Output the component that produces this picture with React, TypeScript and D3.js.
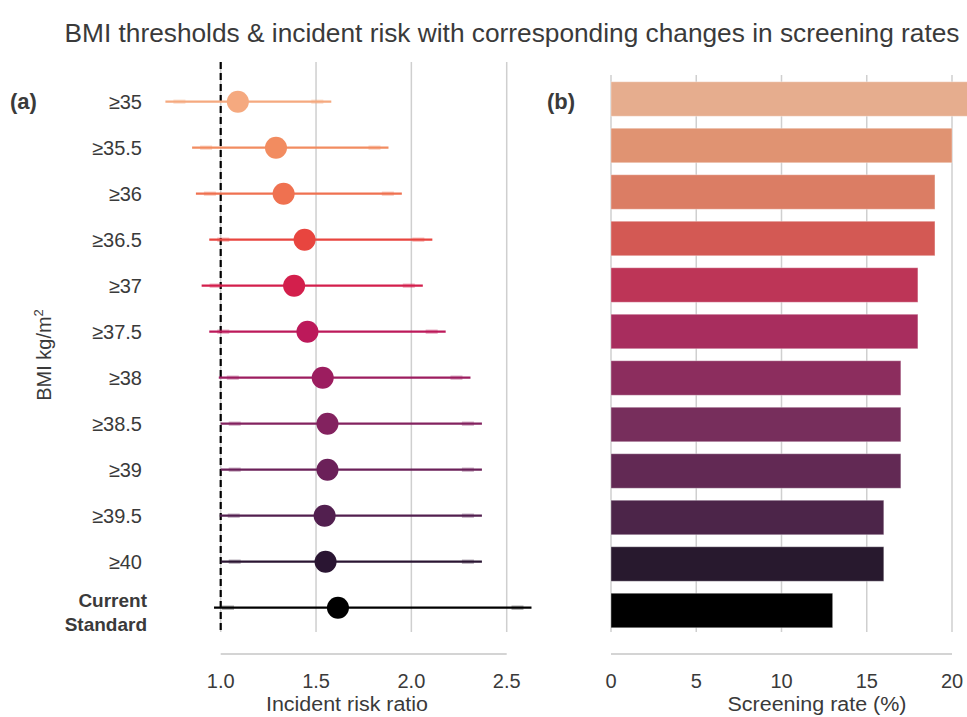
import React from "react";
import * as d3 from "d3";

// BMI thresholds, from the loosest to the current standard
const categories = [
  "≥35",
  "≥35.5",
  "≥36",
  "≥36.5",
  "≥37",
  "≥37.5",
  "≥38",
  "≥38.5",
  "≥39",
  "≥39.5",
  "≥40",
  "Current Standard",
];

// Incident risk ratio with 95% CI
const riskRatio = [1.09, 1.29, 1.33, 1.44, 1.385, 1.455, 1.535, 1.56, 1.56, 1.545, 1.55, 1.615];
const ciLower = [0.71, 0.85, 0.87, 0.94, 0.9, 0.94, 0.99, 1.0, 1.0, 0.995, 1.0, 0.965];
const ciUpper = [1.58, 1.88, 1.95, 2.11, 2.06, 2.18, 2.31, 2.37, 2.37, 2.37, 2.37, 2.63];

// Screening rate (%)
const screeningRate = [21, 20, 19, 19, 18, 18, 17, 17, 17, 16, 16, 13];

const riskTicks = [1.0, 1.5, 2.0, 2.5];
const rateTicks = [0, 5, 10, 15, 20];

const pointColors = [
  "#F5A97F",
  "#F28C60",
  "#EF7150",
  "#E8453F",
  "#D31F4C",
  "#BC195A",
  "#9C1D5F",
  "#83225F",
  "#6B2059",
  "#521F4F",
  "#2A1532",
  "#000000",
];

const W = 967;
const H = 717;
const FONT = "'Liberation Sans', Arial, Helvetica, sans-serif";
const GRID = "#cfcfcf";
const TEXT = "#3a3a3a";

function desaturate(c: string, f: number): string {
  const h = d3.hsl(c);
  if (isNaN(h.s) || isNaN(h.h)) return d3.rgb(c).formatHex();
  h.s *= f;
  return h.formatHex();
}

export default function App() {
  const xRisk = d3.scaleLinear().domain([1, 2.5]).range([220.7, 506.7]);
  const yRisk = d3.scalePoint<string>().domain(categories).range([101.7, 607.7]);

  const xRate = d3.scaleLinear().domain([0, 20]).range([611, 952]);
  const yRate = d3
    .scaleBand<string>()
    .domain(categories)
    .range([75.75, 633.75])
    .paddingInner(0.258)
    .paddingOuter(0.129);

  const barColors = pointColors.map((c) => desaturate(c, 0.75));
  const fmt = d3.format(".1f");

  const leftTop = 62;
  const plotBottom = 632;
  const axisY = 654;

  return (
    <svg
      width={W}
      height={H}
      viewBox={`0 0 ${W} ${H}`}
      style={{ position: "absolute", left: 0, top: 0, background: "#fff" }}
      fontFamily={FONT}
    >
      <rect width={W} height={H} fill="#fff" />

      {/* Title */}
      <text
        x={512}
        y={42}
        textAnchor="middle"
        fontSize={26}
        fill={TEXT}
        textLength={895}
        lengthAdjust="spacingAndGlyphs"
      >
        BMI thresholds &amp; incident risk with corresponding changes in screening rates
      </text>

      {/* Panel (a): risk ratio */}
      <text x={10} y={109} fontSize={22} fontWeight="bold" fill={TEXT}>
        (a)
      </text>

      {riskTicks.map((t) => (
        <line
          key={"g" + t}
          x1={xRisk(t)}
          x2={xRisk(t)}
          y1={leftTop}
          y2={plotBottom}
          stroke={GRID}
          strokeWidth={1.5}
        />
      ))}

      <line
        x1={xRisk(1)}
        x2={xRisk(1)}
        y1={leftTop}
        y2={plotBottom}
        stroke="#000"
        strokeWidth={2.2}
        strokeDasharray="7,4"
      />

      {categories.map((c, i) => {
        const y = yRisk(c)!;
        const lo = xRisk(ciLower[i]);
        const hi = xRisk(ciUpper[i]);
        const col = pointColors[i];
        return (
          <g key={"e" + c}>
            <line x1={lo} x2={hi} y1={y} y2={y} stroke={col} strokeWidth={2.2} />
            <line x1={lo + 8} x2={lo + 20} y1={y} y2={y} stroke={col} strokeWidth={4.5} strokeOpacity={0.3} />
            <line x1={hi - 20} x2={hi - 8} y1={y} y2={y} stroke={col} strokeWidth={4.5} strokeOpacity={0.3} />
            <circle cx={xRisk(riskRatio[i])} cy={y} r={11} fill={col} />
          </g>
        );
      })}

      {/* y tick labels */}
      {categories.map((c, i) => {
        const y = yRisk(c)!;
        if (c === "Current Standard") {
          return (
            <text key={"l" + c} x={147} textAnchor="end" fontSize={19} fontWeight="bold" fill={TEXT}>
              <tspan x={147} y={y - 1}>
                Current
              </tspan>
              <tspan x={147} y={y + 23}>
                Standard
              </tspan>
            </text>
          );
        }
        return (
          <text key={"l" + c} x={142} y={y + 7} textAnchor="end" fontSize={20} fill={TEXT}>
            {c}
          </text>
        );
      })}

      <text
        transform="translate(51,355) rotate(-90)"
        textAnchor="middle"
        fontSize={20}
        fill={TEXT}
      >
        BMI kg/m
        <tspan dy={-8} fontSize={13}>
          2
        </tspan>
      </text>

      <line
        x1={xRisk(1)}
        x2={xRisk(2.5)}
        y1={axisY}
        y2={axisY}
        stroke="#d4d4d4"
        strokeWidth={2}
      />
      {riskTicks.map((t) => (
        <text key={"t" + t} x={xRisk(t)} y={688} textAnchor="middle" fontSize={20} fill={TEXT}>
          {fmt(t)}
        </text>
      ))}
      <text
        x={347}
        y={711}
        textAnchor="middle"
        fontSize={20}
        fill={TEXT}
        textLength={162}
        lengthAdjust="spacingAndGlyphs"
      >
        Incident risk ratio
      </text>

      {/* Panel (b): screening rate */}
      <text x={547} y={109} fontSize={22} fontWeight="bold" fill={TEXT}>
        (b)
      </text>

      {rateTicks.map((t) => (
        <line
          key={"rg" + t}
          x1={xRate(t)}
          x2={xRate(t)}
          y1={75}
          y2={plotBottom}
          stroke={GRID}
          strokeWidth={1.5}
        />
      ))}

      {categories.map((c, i) => (
        <rect
          key={"b" + c}
          x={xRate(0)}
          y={yRate(c)!}
          width={xRate(screeningRate[i]) - xRate(0)}
          height={yRate.bandwidth()}
          fill={barColors[i]}
          stroke="#ffffff"
          strokeOpacity={0.35}
          strokeWidth={1}
        />
      ))}

      <line
        x1={xRate(0)}
        x2={xRate(20)}
        y1={axisY}
        y2={axisY}
        stroke="#d4d4d4"
        strokeWidth={2}
      />
      {rateTicks.map((t) => (
        <text key={"rt" + t} x={xRate(t)} y={688} textAnchor="middle" fontSize={20} fill={TEXT}>
          {t}
        </text>
      ))}
      <text
        x={817}
        y={711}
        textAnchor="middle"
        fontSize={20}
        fill={TEXT}
        textLength={179}
        lengthAdjust="spacingAndGlyphs"
      >
        Screening rate (%)
      </text>
    </svg>
  );
}
